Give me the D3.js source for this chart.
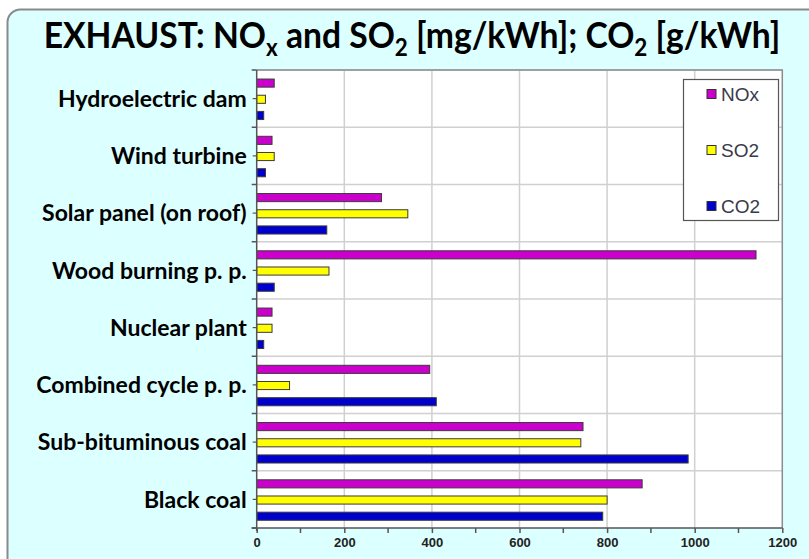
<!DOCTYPE html>
<html>
<head>
<meta charset="utf-8">
<script src="https://cdn.jsdelivr.net/npm/d3@7"></script>
<style>
  html, body { margin: 0; padding: 0; background: #ffffff; }
  svg { display: block; }
</style>
</head>
<body>
<svg id="chart" width="809" height="559"></svg>
<script>
// Plant types, top to bottom
const categories = [
  "Hydroelectric dam",
  "Wind turbine",
  "Solar panel (on roof)",
  "Wood burning p. p.",
  "Nuclear plant",
  "Combined cycle p. p.",
  "Sub-bituminous coal",
  "Black coal"
];

const seriesNames = ["NOx", "SO2", "CO2"];
const seriesColors = ["#cc00cc", "#ffff00", "#0000cc"];

// NOx and SO2 in mg/kWh, CO2 in g/kWh
const noxValues = [40, 35, 285, 1140, 35, 395, 745, 880];
const so2Values = [20, 40, 345, 165, 35, 75, 740, 800];
const co2Values = [16, 20, 160, 40, 16, 410, 985, 790];

const xTicks = [0, 200, 400, 600, 800, 1000, 1200];
const xMinorTicks = [100, 300, 500, 700, 900, 1100];

const seriesValues = [noxValues, so2Values, co2Values];

const svg = d3.select("#chart");
const W = 809, H = 559;

// Panel background
svg.append("rect")
  .attr("x", 7.5).attr("y", 9.5)
  .attr("width", W + 20).attr("height", H + 20)
  .attr("rx", 13).attr("ry", 13)
  .attr("fill", "#dcffff")
  .attr("stroke", "#8a8a8a")
  .attr("stroke-width", 2);

// Title with subscripts (condensed horizontally)
const title = svg.append("text")
  .attr("transform", "translate(412,48) scale(0.935,1)")
  .attr("text-anchor", "middle")
  .attr("font-family", "Lato, 'Open Sans', sans-serif")
  .attr("font-weight", "bold")
  .attr("font-size", 36)
  .attr("fill", "#000");
const titleParts = [
  ["EXHAUST: NO", false], ["x", true], [" and SO", false], ["2", true],
  [" [mg/kWh]; CO", false], ["2", true], [" [g/kWh]", false]
];
titleParts.forEach(([t, sub], i) => {
  const ts = title.append("tspan").text(t);
  if (sub) ts.attr("dy", 8).attr("font-size", 24);
  else ts.attr("dy", i > 0 ? -8 : 0);
});

// Plot area
const plot = { left: 256.7, right: 782.3, top: 70, bottom: 528 };

const x = d3.scaleLinear().domain([0, 1200]).range([plot.left, plot.right]);
const y = d3.scaleBand().domain(categories).range([plot.top, plot.bottom]).padding(0);
const yInner = d3.scaleBand().domain(seriesNames)
  .range([y.bandwidth() * 0.158, y.bandwidth() * 0.865]).paddingInner(0.5);

svg.append("rect")
  .attr("x", plot.left).attr("y", plot.top)
  .attr("width", plot.right - plot.left).attr("height", plot.bottom - plot.top)
  .attr("fill", "#ffffff");

// Gridlines
const grid = svg.append("g").attr("stroke", "#d0d0d0").attr("stroke-width", 1.5);
grid.selectAll("line.v").data(xTicks.slice(1, -1)).join("line")
  .attr("x1", d => x(d)).attr("x2", d => x(d))
  .attr("y1", plot.top).attr("y2", plot.bottom);
grid.selectAll("line.h").data(categories).join("line")
  .attr("x1", plot.left).attr("x2", plot.right)
  .attr("y1", d => y(d)).attr("y2", d => y(d));

// Plot border (top and right)
svg.append("path")
  .attr("d", `M${plot.left},${plot.top}H${plot.right}V${plot.bottom}`)
  .attr("fill", "none").attr("stroke", "#8c8c8c").attr("stroke-width", 1.5);

// Bars
const rows = categories.map((c, i) => ({ c, vals: seriesValues.map(s => s[i]) }));
const groups = svg.append("g").selectAll("g").data(rows).join("g")
  .attr("transform", d => `translate(0,${y(d.c)})`);
groups.selectAll("rect")
  .data(d => d.vals.map((v, j) => ({ v, j })))
  .join("rect")
  .attr("x", x(0))
  .attr("y", d => yInner(seriesNames[d.j]))
  .attr("width", d => x(d.v) - x(0))
  .attr("height", yInner.bandwidth())
  .attr("fill", d => seriesColors[d.j])
  .attr("stroke", "#3a3a3a")
  .attr("stroke-width", 1);

// Left axis
const axisColor = "#555";
svg.append("line")
  .attr("x1", plot.left).attr("x2", plot.left)
  .attr("y1", plot.top).attr("y2", plot.bottom + 3)
  .attr("stroke", axisColor).attr("stroke-width", 1.5);
const boundaries = categories.map(c => y(c)).concat([plot.bottom]);
svg.append("g").selectAll("line").data(boundaries).join("line")
  .attr("x1", plot.left - 5).attr("x2", plot.left)
  .attr("y1", d => d).attr("y2", d => d)
  .attr("stroke", axisColor).attr("stroke-width", 1.5);
svg.append("g").selectAll("line").data(categories).join("line")
  .attr("x1", plot.left - 4).attr("x2", plot.left)
  .attr("y1", d => y(d) + y.bandwidth() / 2).attr("y2", d => y(d) + y.bandwidth() / 2)
  .attr("stroke", axisColor).attr("stroke-width", 1.2);

svg.append("g").selectAll("text").data(categories).join("text")
  .attr("x", plot.left - 10)
  .attr("y", d => y(d) + y.bandwidth() / 2)
  .attr("dy", "0.36em")
  .attr("text-anchor", "end")
  .attr("font-family", "Lato, 'Open Sans', sans-serif")
  .attr("font-weight", "bold")
  .attr("font-size", 23)
  .attr("fill", "#000")
  .text(d => d);

// Bottom axis
const xAxis = d3.axisBottom(x).tickValues(xTicks).tickSize(5).tickPadding(5)
  .tickFormat(d3.format("d"));
const gx = svg.append("g").attr("transform", `translate(0,${plot.bottom})`).call(xAxis);
gx.select(".domain").attr("stroke", axisColor).attr("stroke-width", 1.5)
  .attr("d", `M${plot.left - 5},0H${plot.right}`);
gx.selectAll(".tick line").attr("stroke", axisColor).attr("stroke-width", 1.5);
gx.selectAll(".tick text")
  .attr("font-family", "Arial, 'Liberation Sans', sans-serif")
  .attr("font-weight", "bold")
  .attr("font-size", 13)
  .attr("fill", "#222");
gx.selectAll("line.minor").data(xMinorTicks).join("line")
  .attr("class", "minor")
  .attr("x1", d => x(d)).attr("x2", d => x(d))
  .attr("y1", 0).attr("y2", 5)
  .attr("stroke", axisColor).attr("stroke-width", 1.5);

// Legend
const legend = svg.append("g");
legend.append("rect")
  .attr("x", 683.5).attr("y", 79.5).attr("width", 95).attr("height", 141)
  .attr("fill", "#ffffff").attr("stroke", "#555").attr("stroke-width", 1.2);
const legendY = [94, 150, 206];
const items = legend.selectAll("g").data(seriesNames).join("g")
  .attr("transform", (d, i) => `translate(707,${legendY[i]})`);
items.append("rect")
  .attr("x", 0).attr("y", -4.5).attr("width", 9).attr("height", 9)
  .attr("fill", (d, i) => seriesColors[i])
  .attr("stroke", "#333").attr("stroke-width", 1);
items.append("text")
  .attr("x", 14).attr("dy", "0.36em")
  .attr("font-family", "Arial, 'Liberation Sans', sans-serif")
  .attr("font-size", 19)
  .attr("fill", "#3a3a4a")
  .text(d => d);
</script>
</body>
</html>
